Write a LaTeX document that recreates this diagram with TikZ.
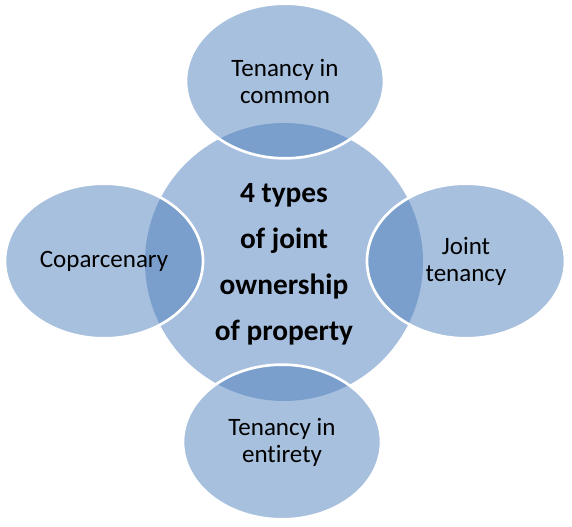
\documentclass[tikz,border=0pt]{standalone}
\usepackage{fontspec}
\setmainfont[Ligatures=NoCommon]{Carlito}
\usetikzlibrary{shapes.geometric}
\definecolor{accent}{HTML}{4F81BD}
\definecolor{hubfill}{HTML}{A7BFDE}
\tikzset{
  hub/.style={circle, fill=hubfill, draw=none, minimum size=208.5pt, inner sep=0pt,
    align=center, text=black, font=\fontsize{22}{34.5}\selectfont\bfseries},
  petal/.style={ellipse, fill=accent, fill opacity=0.5, text opacity=1, draw=white, draw opacity=1,
    line width=2pt, minimum width=148.5pt, minimum height=116pt, inner sep=0pt,
    align=center, text=black, font=\fontsize{18.75}{20.25}\selectfont}
}
\begin{document}
\begin{tikzpicture}[x=0.75pt, y=-0.75pt]
\useasboundingbox (0,0) rectangle (572,527);
\node[hub] (hub) at (284,262) {};
\node[align=center, text=black, font=\fontsize{22}{34.5}\selectfont\bfseries] (hubtext) at (284,264) {4 types\\of joint\\ownership\\of property};
\node[petal] (top) at (285,81) {Tenancy in\\common};
\node[petal] (left) at (104,261) {Coparcenary};
\node[petal] (right) at (466,261) {Joint\\tenancy};
\node[petal] (bottom) at (282,442) {Tenancy in\\entirety};
\end{tikzpicture}
\end{document}
